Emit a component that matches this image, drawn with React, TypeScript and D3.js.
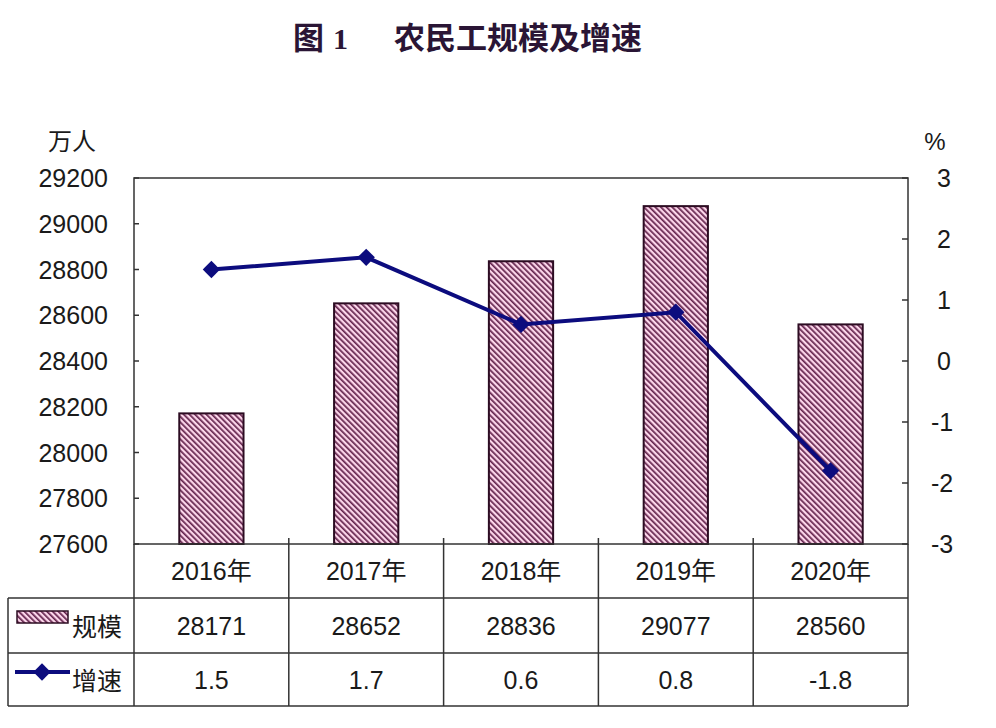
import React from "react";
import * as d3 from "d3";

const categories = ["2016年", "2017年", "2018年", "2019年", "2020年"];
const scaleValues = [28171, 28652, 28836, 29077, 28560];
const growthValues = [1.5, 1.7, 0.6, 0.8, -1.8];
const growthLabels = ["1.5", "1.7", "0.6", "0.8", "-1.8"];
const leftTicks = [27600, 27800, 28000, 28200, 28400, 28600, 28800, 29000, 29200];
const rightTicks = [-3, -2, -1, 0, 1, 2, 3];
const seriesNames = ["规模", "增速"];

const W = 996;
const H = 728;
const plotL = 134;
const plotR = 908;
const plotT = 178;
const plotB = 544;
const row1B = 598;
const row2B = 653;
const row3B = 706;
const tableL = 8;

const FONT = "'Liberation Sans', Arial, 'Noto Sans CJK SC', sans-serif";
const TXT = "#1a1a1a";
const LINE = "#0c0c7e";
const GRID = "#333";

export default function App() {
  const x = d3.scaleBand<string>().domain(categories).range([plotL, plotR]).padding(0);
  const yL = d3.scaleLinear().domain([27600, 29200]).range([plotB, plotT]);
  const yR = d3.scaleLinear().domain([-3, 3]).range([plotB, plotT]);
  const bw = x.bandwidth() * 0.415;
  const cx = (c: string) => (x(c) as number) + x.bandwidth() / 2;

  const line = d3
    .line<number>()
    .x((_, i) => cx(categories[i]))
    .y((d) => yR(d));
  const diamond = d3.symbol().type(d3.symbolSquare).size(150)();

  const boundaries = categories.map((c) => x(c) as number).concat([plotR]);

  return (
    <svg width={W} height={H} style={{ display: "block", position: "absolute", left: 0, top: 0, background: "#fff" }}>
      <defs>
        <pattern id="hatch" patternUnits="userSpaceOnUse" width={4} height={4} patternTransform="rotate(-45)">
          <rect width={4} height={4} fill="#fcd6ea" />
          <rect width={1.7} height={4} fill="#64234d" />
        </pattern>
      </defs>
      <rect width={W} height={H} fill="#fff" />

      {/* title */}
      <text x={293} y={49} fontFamily="'Noto Sans CJK SC', sans-serif" fontWeight={700} fontSize={31} fill="#2a1535">
        图
      </text>
      <text x={333} y={49} fontFamily="'Liberation Serif', serif" fontWeight={700} fontSize={30} fill="#2a1535">
        1
      </text>
      <text x={394} y={49} fontFamily="'Noto Sans CJK SC', sans-serif" fontWeight={700} fontSize={31} fill="#2a1535">
        农民工规模及增速
      </text>

      {/* axis unit labels */}
      <text x={72} y={150} textAnchor="middle" fontFamily={FONT} fontSize={24} fill={TXT}>万人</text>
      <text x={935} y={150} textAnchor="middle" fontFamily={FONT} fontSize={24} fill={TXT}>%</text>

      {/* bars */}
      {scaleValues.map((v, i) => (
        <rect
          key={categories[i]}
          x={cx(categories[i]) - bw / 2}
          y={yL(v)}
          width={bw}
          height={plotB - yL(v)}
          fill="url(#hatch)"
          stroke="#2c0c22"
          strokeWidth={2}
        />
      ))}

      {/* plot frame */}
      <rect x={plotL} y={plotT} width={plotR - plotL} height={plotB - plotT} fill="none" stroke={GRID} strokeWidth={1.5} />

      {/* left ticks + labels */}
      {leftTicks.map((t) => (
        <g key={t}>
          <line x1={plotL} x2={plotL + 5} y1={yL(t)} y2={yL(t)} stroke={GRID} strokeWidth={1.5} />
          <text x={108} y={yL(t)} dy="0.36em" textAnchor="end" fontFamily={FONT} fontSize={25} fill={TXT}>
            {t}
          </text>
        </g>
      ))}

      {/* right ticks + labels */}
      {rightTicks.map((t) => (
        <g key={t}>
          <line x1={plotR - 6} x2={plotR} y1={yR(t)} y2={yR(t)} stroke={GRID} strokeWidth={1.5} />
          <text x={t < 0 ? 931 : 937} y={yR(t)} dy="0.36em" textAnchor="start" fontFamily={FONT} fontSize={25} fill={TXT}>
            {t}
          </text>
        </g>
      ))}

      {/* category separator ticks */}
      {boundaries.slice(1, -1).map((b, i) => (
        <line key={i} x1={b} x2={b} y1={plotB} y2={plotB - 6} stroke={GRID} strokeWidth={1.5} />
      ))}

      {/* growth line */}
      <path d={line(growthValues) || ""} fill="none" stroke={LINE} strokeWidth={4} />
      {growthValues.map((v, i) => (
        <path key={i} d={diamond || ""} transform={`translate(${cx(categories[i])},${yR(v)}) rotate(45)`} fill={LINE} />
      ))}

      {/* data table */}
      <g stroke={GRID} strokeWidth={1.5} fill="none">
        <line x1={plotL} x2={plotL} y1={plotB} y2={row3B} />
        <line x1={plotR} x2={plotR} y1={plotB} y2={row3B} />
        {boundaries.slice(1, -1).map((b, i) => (
          <line key={i} x1={b} x2={b} y1={plotB} y2={row3B} />
        ))}
        <line x1={tableL} x2={plotR} y1={row1B} y2={row1B} />
        <line x1={tableL} x2={plotR} y1={row2B} y2={row2B} />
        <line x1={tableL} x2={plotR} y1={row3B} y2={row3B} />
        <line x1={tableL} x2={tableL} y1={row1B} y2={row3B} />
      </g>
      {categories.map((c, i) => (
        <g key={c}>
          <text x={cx(c)} y={(plotB + row1B) / 2} dy="0.36em" textAnchor="middle" fontFamily={FONT} fontSize={25} fill={TXT}>
            {c}
          </text>
          <text x={cx(c)} y={(row1B + row2B) / 2} dy="0.36em" textAnchor="middle" fontFamily={FONT} fontSize={25} fill={TXT}>
            {scaleValues[i]}
          </text>
          <text x={cx(c)} y={(row2B + row3B) / 2} dy="0.36em" textAnchor="middle" fontFamily={FONT} fontSize={25} fill={TXT}>
            {growthLabels[i]}
          </text>
        </g>
      ))}

      {/* legend keys */}
      <rect x={17} y={611} width={51} height={12} fill="url(#hatch)" stroke="#2c0c22" strokeWidth={1.5} />
      <text x={72} y={(row1B + row2B) / 2} dy="0.4em" fontFamily={FONT} fontSize={25} fill={TXT}>{seriesNames[0]}</text>
      <line x1={15} x2={70} y1={672} y2={672} stroke={LINE} strokeWidth={4} />
      <path d={diamond || ""} transform="translate(42,672) rotate(45)" fill={LINE} />
      <text x={72} y={(row2B + row3B) / 2} dy="0.4em" fontFamily={FONT} fontSize={25} fill={TXT}>{seriesNames[1]}</text>
    </svg>
  );
}
